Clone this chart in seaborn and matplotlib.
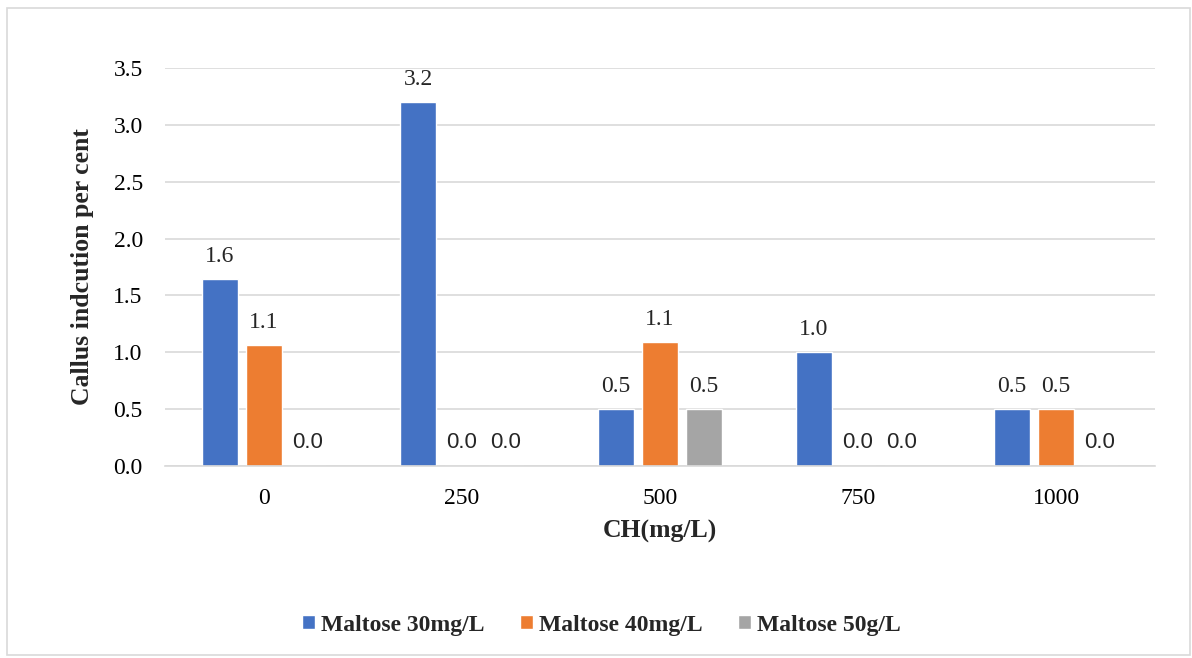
import numpy as np
import pandas as pd
import matplotlib
matplotlib.use('Agg')
import matplotlib.pyplot as plt
import seaborn as sns
from matplotlib.patches import Rectangle

# data
ch_levels = ['0', '250', '500', '750', '1000']
series_names = ['Maltose 30mg/L', 'Maltose 40mg/L', 'Maltose 50g/L']
maltose_30 = [1.64, 3.2, 0.5, 1.0, 0.5]
maltose_40 = [1.06, 0.0, 1.09, 0.0, 0.5]
maltose_50 = [0.0, 0.0, 0.5, 0.0, 0.0]
colors = ['#4472C4', '#ED7D31', '#A5A5A5']

df = pd.DataFrame({
    'CH': ch_levels * 3,
    'value': maltose_30 + maltose_40 + maltose_50,
    'series': [s for s in series_names for _ in ch_levels],
})

sns.set_theme(style='white')
plt.rcParams['font.family'] = ['Liberation Serif', 'DejaVu Serif']

fig = plt.figure(figsize=(11.92, 6.58), dpi=100)
ax = fig.add_axes([0.1384, 0.2918, 0.8306, 0.6049])

sns.barplot(data=df, x='CH', y='value', hue='series', palette=colors,
            order=ch_levels, hue_order=series_names,
            width=0.666, gap=0.2, saturation=1, errorbar=None, ax=ax)

ax.set_ylim(0, 3.5)
ax.set_xlim(-0.5, 4.5)
ax.set_yticks(np.arange(0, 3.51, 0.5))
ax.set_yticklabels([f'{v:.1f}' for v in np.arange(0, 3.51, 0.5)])
ax.yaxis.grid(True, color='#d9d9d9', linewidth=1.2)
ax.set_axisbelow(True)
for side in ['top', 'right', 'left']:
    ax.spines[side].set_visible(False)
ax.spines['bottom'].set_color('#d9d9d9')
ax.spines['bottom'].set_linewidth(1.2)
ax.tick_params(axis='both', length=0, labelsize=17, colors='black')
ax.tick_params(axis='y', pad=16)
ax.tick_params(axis='x', pad=16)

ax.set_xlabel('CH(mg/L)', fontsize=18.5, fontweight='bold', labelpad=8)
ax.set_ylabel('Callus indcution per cent', fontsize=18.5, fontweight='bold', labelpad=14)

# value labels: zeros shown in sans, the rest in serif
for cont in ax.containers:
    texts = ax.bar_label(cont, fmt='%.1f', padding=9, fontsize=17)
    for t, v in zip(texts, cont.datavalues):
        if v == 0:
            t.set_fontfamily(['Liberation Sans', 'DejaVu Sans'])
            t.set_fontsize(16)

# legend sits a bit left of the plot centre, as in the original
leg = ax.legend(loc='center', bbox_to_anchor=(0.441, -0.4), ncol=3,
                frameon=False, prop={'weight': 'bold', 'size': 17},
                handlelength=0.55, handleheight=0.55, handletextpad=0.25,
                columnspacing=1.5)

fig.patches.append(Rectangle((7 / 1192, 3 / 658), 1183 / 1192, 647 / 658,
                             transform=fig.transFigure, fill=False,
                             edgecolor='#d9d9d9', linewidth=1.2))

fig.savefig('out.png', dpi=100)
